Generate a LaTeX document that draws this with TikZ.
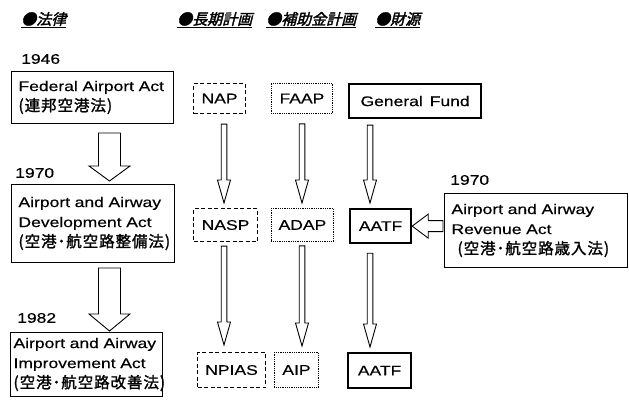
\documentclass[tikz,border=0pt]{standalone}
\usepackage{fontspec}
\setmainfont{Liberation Sans}[FakeStretch=1.25,FakeBold=0.4,WordSpace=1.5]
\newfontfamily\jpfont{Noto Sans CJK JP}[FakeBold=1.6,LetterSpace=6]
\newfontfamily\jphead{Noto Sans CJK JP}[FakeSlant=0.25,FakeBold=2]
\usetikzlibrary{calc}

\tikzset{
  headtext/.style={anchor=west, inner sep=0pt, font=\jphead\fontsize{15}{15}\selectfont},
  yeartext/.style={anchor=west, inner sep=0pt, font=\fontsize{14}{14}\selectfont},
  lawbox/.style={draw, line width=1pt, anchor=north west, align=left, inner ysep=0pt,
    font=\fontsize{14}{20}\selectfont},
  boxsize/.style 2 args={minimum width=#1, minimum height=#2},
  smallbox/.style={anchor=north west, inner sep=0pt, font=\fontsize{14}{14}\selectfont},
  planbox/.style={smallbox, draw, line width=1.1pt, dash pattern=on 4pt off 2.5pt},
  grantbox/.style={smallbox, draw, line width=0.9pt, dash pattern=on 0.9pt off 0.9pt},
  fundbox/.style={smallbox, draw, line width=2.2pt},
  blockarrow/.style={draw, line width=0.9pt, fill=white, line join=miter}
}

% Japanese line in the act boxes
\newcommand{\jpline}[1]{{\jpfont\fontsize{15.5}{20}\selectfont(\kern1pt#1\kern1pt)}}

% hollow block arrows: start, tip, half shaft, half head, head length
\newcommand{\downblock}[5]{%
  \draw[blockarrow] let \p1=(#1), \p2=(#2) in
    (\x1-#3,\y1) -- (\x1-#3,\y2+#5) -- (\x1-#4,\y2+#5) -- (\x1,\y2)
    -- (\x1+#4,\y2+#5) -- (\x1+#3,\y2+#5) -- (\x1+#3,\y1) -- cycle;}
\newcommand{\leftblock}[5]{%
  \draw[blockarrow] let \p1=(#1), \p2=(#2) in
    (\x1,\y1-#3) -- (\x2+#5,\y1-#3) -- (\x2+#5,\y1-#4) -- (\x2,\y1)
    -- (\x2+#5,\y1+#4) -- (\x2+#5,\y1+#3) -- (\x1,\y1+#3) -- cycle;}

\begin{document}
\begin{tikzpicture}[x=1pt, y=-1pt]
\useasboundingbox (0,0) rectangle (629,406);

% column headings
\node[headtext] (hlaw) at (21,20) {\underline{●法律}};
\node[headtext] (hplan) at (177,20) {\underline{●長期計画}};
\node[headtext] (hgrant) at (266,20) {\underline{●補助金計画}};
\node[headtext] (hfund) at (375,20) {\underline{●財源}};

% years
\node[yeartext] (y1946) at (21,59) {1946};
\node[yeartext] (y1970) at (15,173) {1970};
\node[yeartext] (y1982) at (17,318) {1982};
\node[yeartext] (y1970r) at (450,180) {1970};

% acts
\node[lawbox, inner xsep=7pt, text width=148pt, minimum height=52pt] (faa) at (11,71)
  {Federal Airport Act\\\jpline{連邦空港法}};
\node[lawbox, inner xsep=7pt, text width=149pt, minimum height=78pt] (aada) at (11,184)
  {Airport and Airway\\Development Act\\\jpline{空港･航空路整備法}};
\node[lawbox, inner xsep=3pt, text width=146pt, minimum height=64pt] (aaia) at (10,332)
  {Airport and Airway\\Improvement Act\\\jpline{空港･航空路改善法}};
\node[lawbox, inner xsep=7pt, text width=169pt, minimum height=74pt] (aara) at (444,193)
  {Airport and Airway\\Revenue Act\\\hspace*{6pt}\jpline{空港･航空路歳入法}};

% plans, grants, funds
\node[planbox, boxsize={52}{30}] (nap) at (193,83) {NAP};
\node[grantbox, boxsize={61}{30}] (faap) at (271,83) {FAAP};
\node[fundbox, boxsize={132}{34}] (gfund) at (348,83) {General\hspace{0.5em}Fund};
\node[planbox, boxsize={64}{33}] (nasp) at (193,208) {NASP};
\node[grantbox, boxsize={62}{33}] (adap) at (271,208) {ADAP};
\node[fundbox, boxsize={61}{34}] (aatf) at (349,208) {AATF};
\node[planbox, boxsize={68}{35}] (npias) at (197,352) {NPIAS};
\node[grantbox, boxsize={44}{35}] (aip) at (274,352) {AIP};
\node[fundbox, boxsize={63}{35}] (aatfb) at (347,352) {AATF};

% arrow columns
\coordinate (lawcol) at (109.5,0);
\coordinate (plancol) at (224,0);
\coordinate (grantcol) at (302,0);
\coordinate (fundcol) at (370,0);

\downblock{$(faa.south -| lawcol)+(0,9)$}{$(aada.north -| lawcol)+(0,-3)$}{11pt}{20.5pt}{15pt}
\downblock{$(aada.south -| lawcol)+(0,5)$}{$(aaia.north -| lawcol)+(0,-1)$}{11pt}{20.5pt}{17pt}

\downblock{$(nap.south -| plancol)+(0,10)$}{$(nasp.north -| plancol)+(0,-5)$}{2.8pt}{6.5pt}{23pt}
\downblock{$(faap.south -| grantcol)+(0,10)$}{$(adap.north -| grantcol)+(0,-5)$}{2.8pt}{6.5pt}{23pt}
\downblock{$(gfund.south -| fundcol)+(0,6)$}{$(aatf.north -| fundcol)+(0,-5)$}{2.8pt}{6.5pt}{23pt}
\downblock{$(nasp.south -| plancol)+(0,4)$}{$(npias.north -| plancol)+(0,-7)$}{2.8pt}{6.5pt}{23pt}
\downblock{$(adap.south -| grantcol)+(0,4)$}{$(aip.north -| grantcol)+(0,-6)$}{2.8pt}{6.5pt}{23pt}
\downblock{$(aatf.south -| fundcol)+(0,9)$}{$(aatfb.north -| fundcol)+(0,-5)$}{2.8pt}{6.5pt}{23pt}

\leftblock{$(aara.west |- aatf.east)+(-1,0)$}{aatf.east}{5.5pt}{12pt}{16pt}
\end{tikzpicture}
\end{document}
